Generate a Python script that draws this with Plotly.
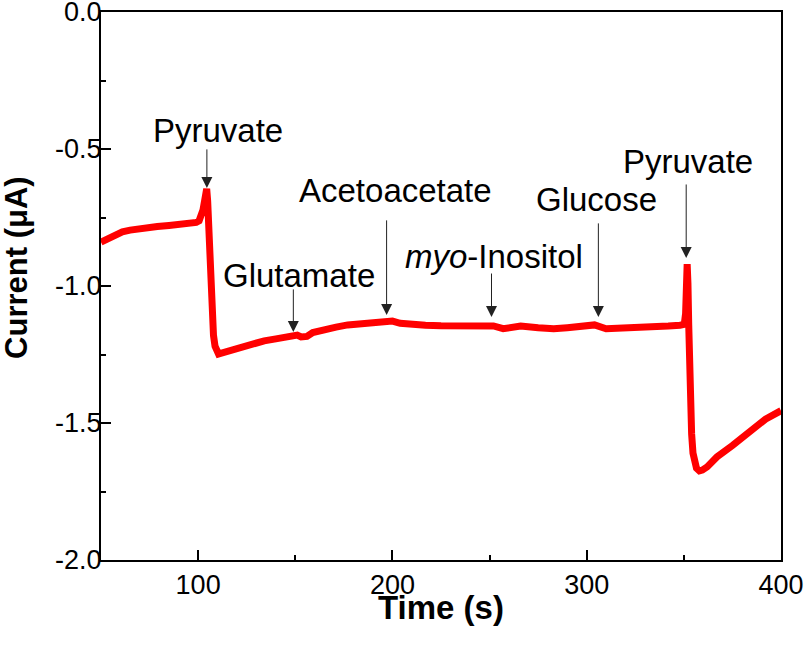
import plotly.graph_objects as go

# Time (s) and current (uA)
time_s = [50, 52, 55, 58, 61, 65, 70, 75, 79, 85, 90, 96, 99, 100.5, 101.5, 102.5, 103.3, 104.0, 104.4,
          104.9, 105.4, 105.9, 106.5, 107.2, 107.9, 108.7, 109.5, 110.5, 112, 115, 120, 125, 130, 134,
          140, 145, 149, 151, 153, 156, 159, 165, 171, 177, 183, 188, 194, 198, 200, 204, 210, 217,
          225, 235, 245, 252, 257, 261, 266, 275, 283, 290, 296, 300, 304, 310, 318, 326, 334, 342,
          348, 350.2, 350.9, 351.3, 351.7, 352.1, 352.5, 352.9, 353.4, 354.0, 354.7, 355.5, 356.5,
          358.0, 359.5, 362, 367, 375, 384, 392, 400]
current_uA = [-0.840, -0.832, -0.822, -0.812, -0.802, -0.796, -0.790, -0.786, -0.783, -0.779, -0.776,
              -0.771, -0.768, -0.762, -0.748, -0.722, -0.690, -0.655, -0.645,
              -0.690, -0.800, -0.920, -1.030, -1.120, -1.180, -1.220, -1.240, -1.248, -1.245, -1.238,
              -1.228, -1.216, -1.207, -1.200,
              -1.193, -1.186, -1.180, -1.179, -1.186, -1.184, -1.170, -1.158, -1.150, -1.142, -1.137,
              -1.134, -1.131, -1.126, -1.128, -1.136, -1.142, -1.143,
              -1.145, -1.146, -1.147, -1.146, -1.156, -1.150, -1.146, -1.152, -1.156, -1.152, -1.146,
              -1.140, -1.142, -1.156, -1.155, -1.153, -1.150, -1.146,
              -1.143, -1.140, -1.100, -1.010, -0.920, -0.990, -1.140, -1.290, -1.430, -1.540, -1.610,
              -1.645, -1.665,
              -1.675, -1.672, -1.660, -1.624, -1.582, -1.532, -1.486, -1.455]

# Annotations: label, arrow tip (x, y), arrow tail y, label position (x, y)
labels = ["Pyruvate", "Glutamate", "Acetoacetate", "<i>myo</i>-Inositol", "Glucose", "Pyruvate"]
arrow_x = [104.5, 149, 197, 251, 306, 351.2]
arrow_tip_y = [-0.642, -1.168, -1.106, -1.113, -1.113, -0.898]
arrow_tail_y = [-0.496, -1.007, -0.755, -0.949, -0.766, -0.624]
label_x = [110.2, 151.9, 201.8, 252.3, 304.8, 352.1]
label_y = [-0.431, -0.960, -0.653, -0.894, -0.686, -0.547]

x_ticks = [100, 200, 300, 400]
x_minor = [150, 250, 350]
y_ticks = [0.0, -0.5, -1.0, -1.5, -2.0]
y_ticktext = ["0.0", "-0.5", "-1.0", "-1.5", "-2.0"]
y_minor = [-0.25, -0.75, -1.25, -1.75]

FONT = "Liberation Sans, Arial, Helvetica, sans-serif"

fig = go.Figure()
fig.add_trace(go.Scatter(x=time_s, y=current_uA, mode="lines",
                         line=dict(color="#ff0000", width=7), showlegend=False))

for lx, ly, t, ax_, tip, tail in zip(label_x, label_y, labels, arrow_x, arrow_tip_y, arrow_tail_y):
    fig.add_annotation(x=ax_, y=tip, ax=ax_, ay=tail, axref="x", ayref="y", xref="x", yref="y",
                       text="", showarrow=True, arrowhead=2, arrowsize=2.2, arrowwidth=1,
                       arrowcolor="#222222", standoff=0, startstandoff=0)
    fig.add_annotation(x=lx, y=ly, xref="x", yref="y", text=t, showarrow=False,
                       xanchor="center", yanchor="middle",
                       font=dict(family=FONT, size=33, color="black"))

fig.add_annotation(x=-0.1235, y=0.533, xref="paper", yref="paper", text="<b>Current (μA)</b>",
                   textangle=-90, showarrow=False, xanchor="center", yanchor="middle", borderpad=0,
                   font=dict(family=FONT, size=31, color="black"))
fig.add_annotation(x=0.5, y=-0.086, xref="paper", yref="paper", text="<b>Time (s)</b>",
                   showarrow=False, xanchor="center", yanchor="middle", borderpad=0,
                   font=dict(family=FONT, size=33, color="black"))

axis_common = dict(showline=True, linecolor="black", linewidth=2, mirror=True,
                   ticks="inside", ticklen=10, tickwidth=2, tickcolor="black",
                   showgrid=False, zeroline=False, automargin=False,
                   ticklabeloverflow="allow",
                   tickfont=dict(family=FONT, size=27, color="black"))
fig.update_xaxes(range=[50, 400], tickvals=x_ticks, ticktext=[str(v) for v in x_ticks],
                 ticklabelstandoff=0,
                 minor=dict(tickvals=x_minor, ticks="inside", ticklen=5, tickwidth=2, tickcolor="black"),
                 **axis_common)
fig.update_yaxes(range=[-2.0, 0.0], tickvals=y_ticks, ticktext=y_ticktext,
                 ticklabelstandoff=-8,
                 minor=dict(tickvals=y_minor, ticks="inside", ticklen=5, tickwidth=2, tickcolor="black"),
                 **axis_common)

fig.update_layout(width=804, height=646, margin=dict(l=101, r=23, t=12, b=86),
                  paper_bgcolor="white", plot_bgcolor="white",
                  font=dict(family=FONT, color="black"))

fig.write_html("out.html", config={"displayModeBar": False},
               post_script="document.body.style.margin='0';document.body.style.padding='0';")
